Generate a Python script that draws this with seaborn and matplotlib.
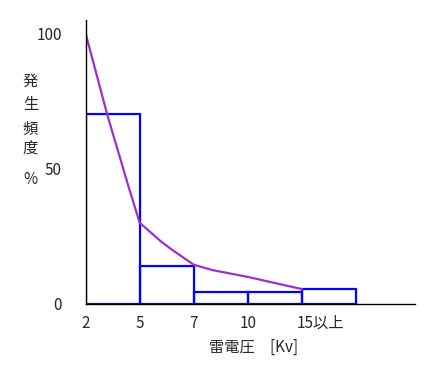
import numpy as np
import pandas as pd
import matplotlib
matplotlib.use("Agg")
import matplotlib.pyplot as plt
import matplotlib.transforms as mtransforms
import seaborn as sns

# Data
voltage_labels = ["2", "5", "7", "10", "15以上"]
freq_pct = [70, 14, 4.5, 4.5, 5.5]          # bar heights per voltage class
curve_pos = [0, 0.4, 0.8, 0.97, 1.0, 1.4, 1.6, 2.0, 2.35, 3.0, 4.0]
curve_pct = [100, 70, 43, 32, 30, 23, 20, 14.5, 12.5, 10, 5.5]
ylabel_chars = ["発", "生", "頻", "度", "%"]

sns.set_style("white")
plt.rcParams["font.family"] = ["Noto Sans CJK JP", "DejaVu Sans"]

fig = plt.figure(figsize=(4.33, 3.74), dpi=100)
ax = fig.add_axes([85.5 / 433, 1 - 304 / 374, (415 - 85.5) / 433, (304 - 20) / 374])

pos = np.arange(len(freq_pct))
bars = pd.DataFrame({"mid": pos + 0.5, "pct": freq_pct})
sns.histplot(data=bars, x="mid", weights="pct", bins=list(range(len(freq_pct) + 1)),
             fill=False, color="#0000FF", linewidth=1.6, ax=ax)
sns.lineplot(x=curve_pos, y=curve_pct, color="#9932CC", linewidth=1.6,
             sort=False, estimator=None, ax=ax)

ax.set_xlim(0, 6.09)
ax.set_ylim(0, 104.8)
ax.set_yticks([0, 50, 100])
ax.set_yticklabels(["0", "50", "100"], fontsize=11)
ax.set_xticks(pos)
ax.set_xticklabels(voltage_labels, fontsize=11)
ax.tick_params(axis="x", length=0, pad=8)
ax.tick_params(axis="y", length=0, pad=17)
last = ax.get_xticklabels()[-1]
last.set_horizontalalignment("left")
last.set_transform(last.get_transform() + mtransforms.ScaledTranslation(-5 / 100, 0, fig.dpi_scale_trans))

ax.set_xlabel("")
ax.set_ylabel("")
for side in ["top", "right"]:
    ax.spines[side].set_visible(False)
for side in ["left", "bottom"]:
    ax.spines[side].set_color("black")
    ax.spines[side].set_linewidth(1.0)
    ax.spines[side].set_zorder(5)

# vertical stacked y label
for ch, yc in zip(ylabel_chars, [81.5, 104, 128.5, 148, 179]):
    fig.text(30.5 / 433, 1 - yc / 374, ch, ha="center", va="center", fontsize=11)
fig.text(254 / 433, 1 - 347 / 374, "雷電圧　[Kv]", ha="center", va="center", fontsize=11)

fig.savefig("out.png", dpi=100)
